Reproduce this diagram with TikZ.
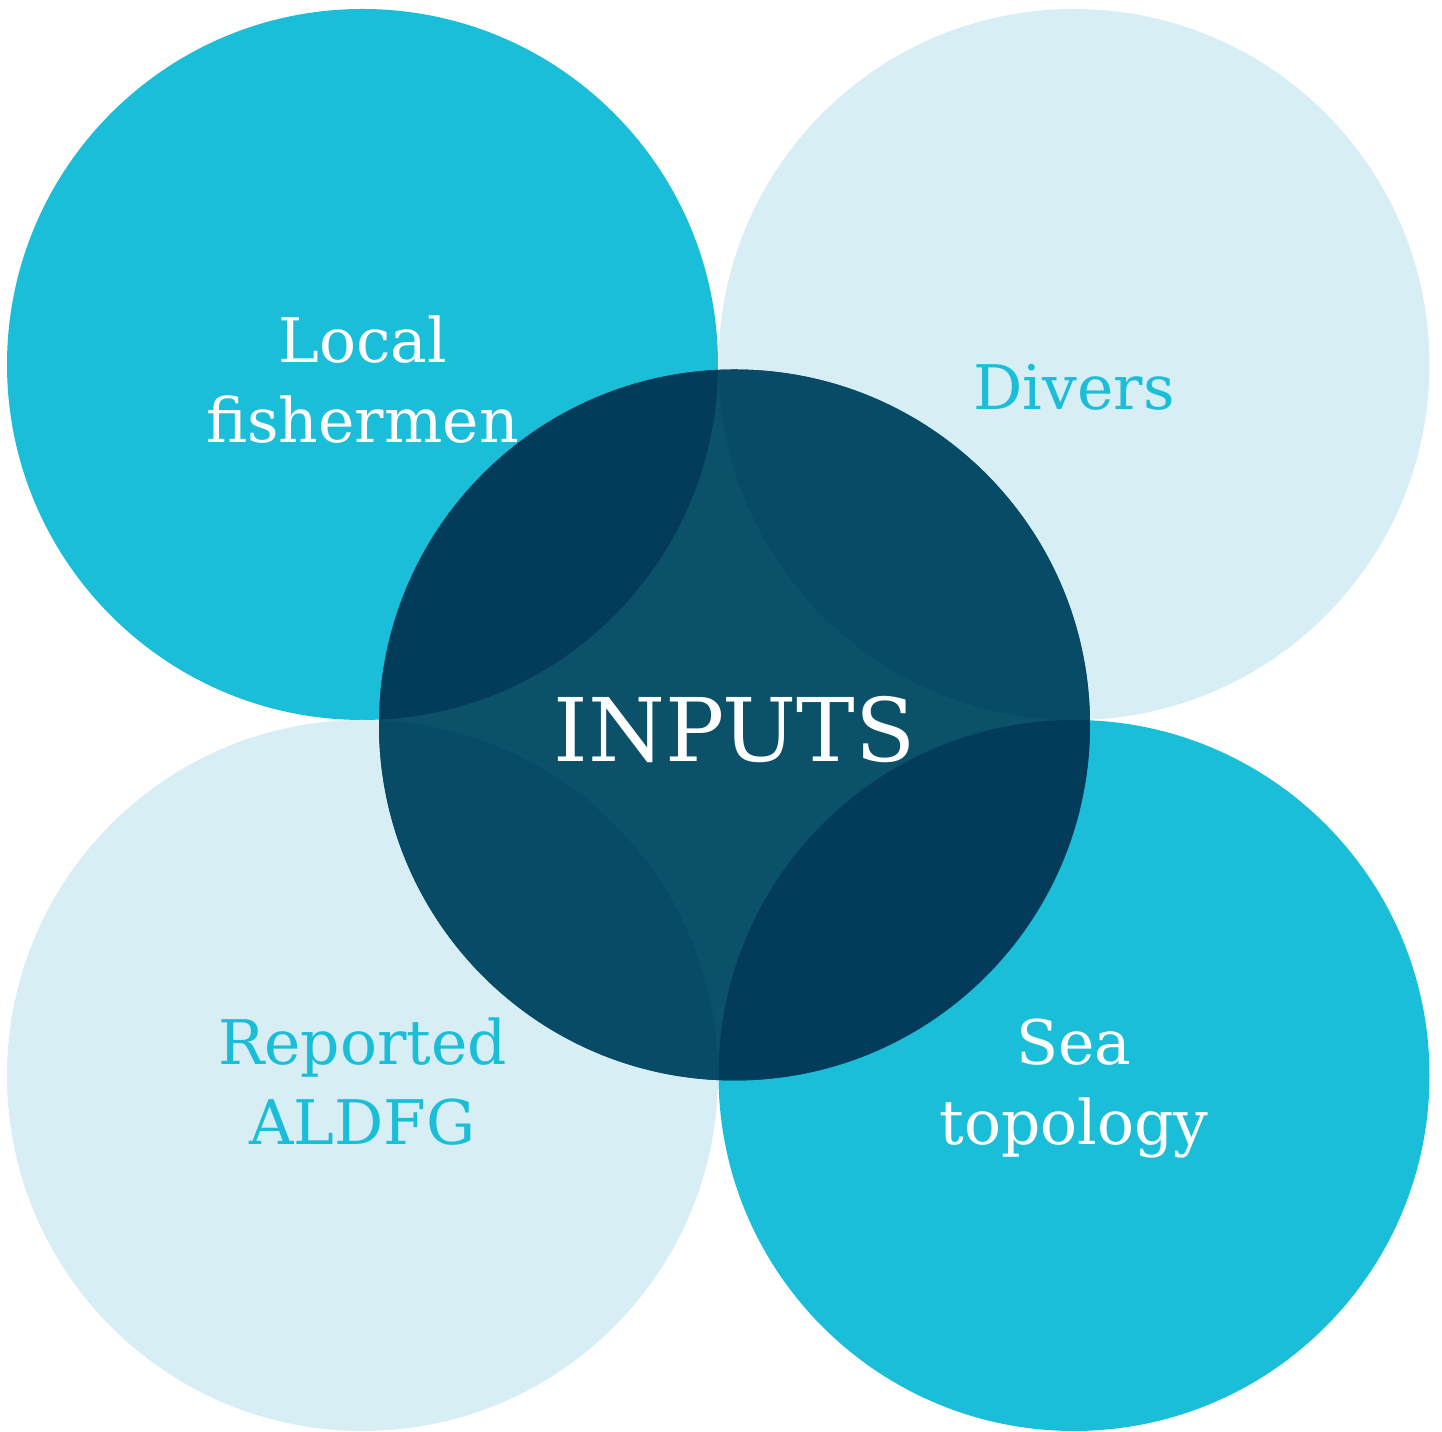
\documentclass[tikz,border=0pt]{standalone}
\usepackage{fontspec}
\setmainfont{DejaVu Serif}
\definecolor{seacyan}{HTML}{1ABED9}
\definecolor{seapale}{HTML}{D6EEF4}
\definecolor{seadeep}{HTML}{0A5169}
\definecolor{seadeeper}{HTML}{033C5B}
\definecolor{seamid}{HTML}{084B66}

\begin{document}
\begin{tikzpicture}[
    circtext/.style={font=\fontsize{17.5}{23}\selectfont, align=center, anchor=base, inner sep=0pt},
    bigtext/.style={font=\fontsize{25}{30}\selectfont, anchor=base, inner sep=0pt, text=white}
  ]
        \useasboundingbox (0,0) rectangle (14.42,14.32);

        \fill[seacyan] (3.625,10.675) circle (3.555);
        \fill[seapale] (10.74,10.675) circle (3.555);
        \fill[seapale] (3.625,3.565) circle (3.555);
        \fill[seacyan] (10.74,3.565) circle (3.555);

        \fill[seadeep] (7.345,7.07) circle (3.555);
        \begin{scope}
            \clip (7.345,7.07) circle (3.555);
            \fill[seadeeper] (3.625,10.675) circle (3.555);
            \fill[seamid] (10.74,10.675) circle (3.555);
            \fill[seamid] (3.625,3.565) circle (3.555);
            \fill[seadeeper] (10.74,3.565) circle (3.555);
        \end{scope}

        \node[circtext, text=white] (fishermen) at (3.625,9.89) {Local\\fishermen};
        \node[circtext, text=seacyan] (divers) at (10.74,10.22) {Divers};
        \node[circtext, text=seacyan] (aldfg) at (3.625,2.87) {Reported\\ALDFG};
        \node[circtext, text=white] (topology) at (10.74,2.87) {Sea\\topology};
        \node[bigtext] (inputs) at (7.345,6.70) {INPUTS};
\end{tikzpicture}
\end{document}
